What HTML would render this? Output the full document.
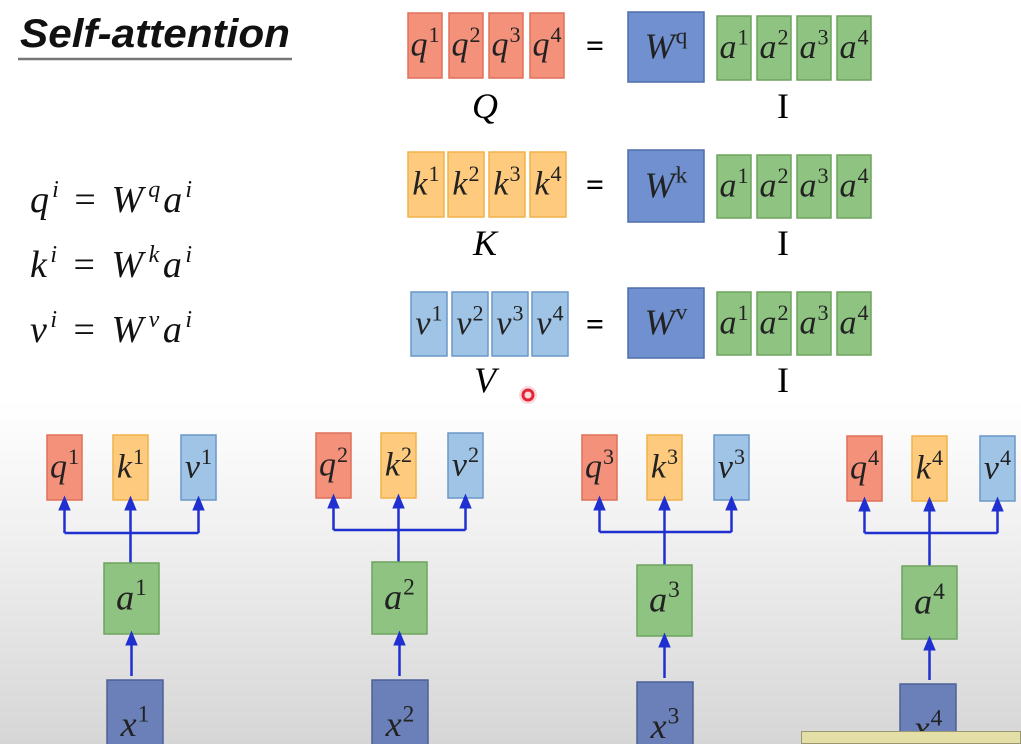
<!DOCTYPE html>
<html><head><meta charset="utf-8">
<style>
html,body{margin:0;padding:0;}
body{width:1021px;height:744px;overflow:hidden;background:linear-gradient(to bottom,#fff 0px,#fff 400px,#f2f2f2 520px,#d6d6d6 744px);font-family:"Liberation Serif",serif;position:relative;}
svg{position:absolute;left:0;top:0;}
</style></head>
<body>
<svg id="s" width="1021" height="744">
<defs><marker id="ah" markerWidth="6" markerHeight="6" refX="3" refY="3" orient="auto"><path d="M0,0.5 L6,3 L0,5.5 z" fill="#1f2fd0"/></marker></defs>
<text x="20" y="47" font-family="Liberation Sans,sans-serif" font-weight="bold" font-style="italic" font-size="40" textLength="270" lengthAdjust="spacingAndGlyphs" fill="#111">Self-attention</text>
<line x1="18" y1="59" x2="292" y2="59" stroke="#777" stroke-width="2.5"/>
<g id="eqs" font-family="Liberation Serif,serif" font-size="38" fill="#111">
<text x="30" y="212" textLength="162" lengthAdjust="spacing"><tspan font-style="italic">q</tspan><tspan dy="-15" font-size="24" font-style="italic">i</tspan><tspan dy="15"> = </tspan><tspan font-style="italic">W</tspan><tspan dy="-15" font-size="24" font-style="italic" dx="2">q</tspan><tspan dy="15" font-style="italic">a</tspan><tspan dy="-15" font-size="24" font-style="italic">i</tspan></text>
<text x="30" y="277" textLength="162" lengthAdjust="spacing"><tspan font-style="italic">k</tspan><tspan dy="-15" font-size="24" font-style="italic">i</tspan><tspan dy="15"> = </tspan><tspan font-style="italic">W</tspan><tspan dy="-15" font-size="24" font-style="italic" dx="2">k</tspan><tspan dy="15" font-style="italic">a</tspan><tspan dy="-15" font-size="24" font-style="italic">i</tspan></text>
<text x="30" y="342" textLength="162" lengthAdjust="spacing"><tspan font-style="italic">v</tspan><tspan dy="-15" font-size="24" font-style="italic">i</tspan><tspan dy="15"> = </tspan><tspan font-style="italic">W</tspan><tspan dy="-15" font-size="24" font-style="italic" dx="2">v</tspan><tspan dy="15" font-style="italic">a</tspan><tspan dy="-15" font-size="24" font-style="italic">i</tspan></text>
</g>
<circle cx="528" cy="395" r="5" fill="none" stroke="#e02030" stroke-width="3"/>
<circle cx="528" cy="395" r="9" fill="#f04050" opacity="0.2"/>
</svg>
<div style="position:absolute;left:801px;top:731px;width:220px;height:13px;background:#e3dfa6;border:1px solid #9a9870;box-sizing:border-box"></div>
<script>
const NS="http://www.w3.org/2000/svg";
const svg=document.getElementById('s');
const C={q:['#f4917b','#e0705a'],k:['#fdca7e','#f2b24a'],v:['#9fc4e6','#6b97c8'],w:['#7090d0','#4d6cab'],a:['#8fc381','#6ea35f'],x:['#6b80b8','#4d6198']};
function box(x,y,w,h,t,letter,sup,fs,name){
  const r=document.createElementNS(NS,'rect');
  r.setAttribute('x',x);r.setAttribute('y',y);r.setAttribute('width',w);r.setAttribute('height',h);
  r.setAttribute('fill',C[t][0]);r.setAttribute('stroke',C[t][1]);r.setAttribute('stroke-width',1.5);
  
  
  svg.appendChild(r);
  const tx=document.createElementNS(NS,'text');
  tx.setAttribute('x',x+w/2);tx.setAttribute('y',y+h/2+fs*0.3);tx.setAttribute('text-anchor','middle');
  tx.setAttribute('font-size',fs);tx.setAttribute('fill','#222');
  tx.innerHTML='<tspan font-style="italic">'+letter+'</tspan><tspan dx="1" dy="'+(-fs*0.4)+'" font-size="'+(fs*0.65)+'">'+sup+'</tspan>';
  
  
  svg.appendChild(tx);
}
function label(x,y,s,it,name,fs,bold){
  const tx=document.createElementNS(NS,'text');
  tx.setAttribute('x',x);tx.setAttribute('y',y);tx.setAttribute('text-anchor','middle');tx.setAttribute('font-size',fs||36);
  if(it)tx.setAttribute('font-style','italic');
  if(bold)tx.setAttribute('font-weight','bold');
  tx.textContent=s;
  
  
  svg.appendChild(tx);
}
const rows=[
 {t:'q',y:13,h:65,xs:[408,449,489,530],w:34,wy:12,wh:70,wl:'q',L:'Q',ay:16,ah:64,ly:118},
 {t:'k',y:152,h:65,xs:[408,448,489,530],w:36,wy:150,wh:72,wl:'k',L:'K',ay:155,ah:63,ly:255},
 {t:'v',y:292,h:64,xs:[411,452,492,532],w:36,wy:288,wh:70,wl:'v',L:'V',ay:292,ah:63,ly:392}
];
const axs=[717,757,797,837];
rows.forEach(r=>{
  r.xs.forEach((x,i)=>box(x,r.y,r.w,r.h,r.t,r.t,i+1,34,r.t+'-matrix-col-'+(i+1)));
  label(485,r.ly,r.L,true,r.t+'-matrix-label');
  label(595,r.y+r.h/2+11,'=',false,r.t+'-equals',32,true);
  box(628,r.wy,76,r.wh,'w','W',r.wl,36,'w'+r.t+'-matrix');
  axs.forEach((x,i)=>box(x,r.ay,34,r.ah,'a','a',i+1,34,r.t+'-row-a'+(i+1)));
  label(783,r.ly,'I',false,r.t+'-input-label');
});
function line(x1,y1,x2,y2,arrow,name){
  const l=document.createElementNS(NS,'line');
  l.setAttribute('x1',x1);l.setAttribute('y1',y1);l.setAttribute('x2',x2);l.setAttribute('y2',y2);
  l.setAttribute('stroke','#1f2fd0');l.setAttribute('stroke-width',2.5);
  if(arrow)l.setAttribute('marker-end','url(#ah)');
  
  
  svg.appendChild(l);
}
const groups=[
 {q:47,k:113,v:181,by:435,ly:533,ax:104,ay:563,ah:71,xx:107,xy:680},
 {q:316,k:381,v:448,by:433,ly:530,ax:372,ay:562,ah:72,xx:372,xy:680},
 {q:582,k:647,v:714,by:435,ly:532,ax:637,ay:565,ah:71,xx:637,xy:682},
 {q:847,k:912,v:980,by:436,ly:533,ax:902,ay:566,ah:73,xx:900,xy:684}
];
groups.forEach((g,i)=>{
  const n=i+1;
  [['q',g.q],['k',g.k],['v',g.v]].forEach(([t,x])=>{
    box(x,g.by,35,65,t,t,n,34,t+n+'-box');
    line(x+17.5,g.ly,x+17.5,g.by+68,true,'arrow-to-'+t+n);
  });
  line(g.q+17.5,g.ly,g.v+17.5,g.ly,false,'branch-line-'+n);
  line(g.k+17.5,g.ay,g.k+17.5,g.ly,false,'stem-line-'+n);
  box(g.ax,g.ay,55,g.ah,'a','a',n,36,'a'+n+'-box');
  line(g.ax+27.5,g.xy-4,g.ax+27.5,g.ay+g.ah+4,true,'arrow-x-to-a'+n);
  box(g.xx,g.xy,56,90,'x','x',n,36,'x'+n+'-box');
});
</script>
</body></html>
